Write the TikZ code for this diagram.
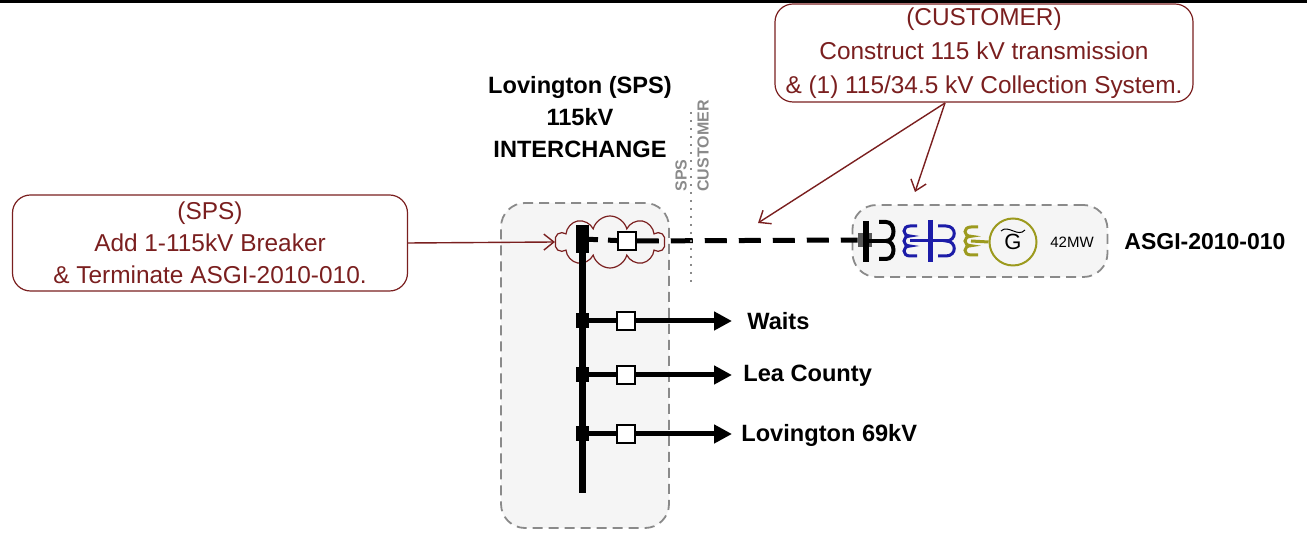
\documentclass[tikz,border=0pt]{standalone}
\usepackage{fontspec}
\setmainfont{Liberation Sans}
\usetikzlibrary{arrows.meta,shapes.symbols,positioning}
\definecolor{darkred}{HTML}{7A1F1F}
\definecolor{boxgray}{HTML}{8A8A8A}
\definecolor{fillgray}{HTML}{F5F5F5}
\definecolor{xfblue}{HTML}{1C1CA8}
\definecolor{genolive}{HTML}{9C9A1E}
\begin{document}
\begin{tikzpicture}[x=0.5pt,y=-0.5pt]
\tikzstyle{every node}+=[inner sep=0pt]
\tikzstyle{note}=[draw=darkred,line width=0.6pt,rounded corners=9pt,text=darkred,align=center]
\tikzstyle{dashbox}=[draw=boxgray,fill=fillgray,dash pattern=on 5pt off 3pt,line width=0.9pt,rounded corners=12pt]
\tikzstyle{brk}=[draw,fill=white,line width=0.75pt,minimum size=9pt]
\tikzstyle{jn}=[fill=black,minimum width=6.5pt,minimum height=7.5pt]
\tikzstyle{feeder}=[line width=2.5pt,-{Triangle[length=9pt,width=9pt]}]
\tikzstyle{tie}=[line width=2.5pt,dash pattern=on 11pt off 6pt]
\tikzstyle{callout}=[draw=darkred,line width=0.7pt,-{Straight Barb[length=5pt,width=8pt]}]
\tikzstyle{feedname}=[anchor=west,font=\bfseries\fontsize{11.8}{14}\selectfont]
\useasboundingbox (0,0) rectangle (1307,533);
\draw [line width=1.5pt] (0,2) -- (1307,2);
\node [note,minimum width=209pt,minimum height=49pt,font=\fontsize{12.2}{17}\selectfont] (cust) at (984,53)
  {(CUSTOMER)\\Construct 115 kV transmission\\\& (1) 115/34.5 kV Collection System.};
\node [note,minimum width=197.5pt,minimum height=48pt,font=\fontsize{12.2}{16}\selectfont] (sps) at (210,243)
  {(SPS)\\Add 1-115kV Breaker\\\& Terminate ASGI-2010-010.};
\node [align=center,font=\bfseries\fontsize{11.8}{16}\selectfont] (title) at (580,117)
  {Lovington (SPS)\\115kV\\INTERCHANGE};
\node [dashbox,minimum width=84pt,minimum height=162.5pt] (stn) at (585,365.5) {};
\node [dashbox,minimum width=127.5pt,minimum height=36pt] (gbox) at (980,241) {};
\node [cloud,draw=darkred,cloud puffs=10,cloud ignores aspect,minimum width=55pt,minimum height=26pt,line width=0.6pt] (cloud) at (610,242) {};
\coordinate (bustop) at (582,225);
\coordinate (busbot) at (582,493);
\draw [line width=3.5pt] (bustop) -- (busbot);
\node [jn,minimum height=14pt] (j0) at (582,239) {};
\node [jn] (j1) at (582,321) {};
\node [jn] (j2) at (582,375) {};
\node [jn] (j3) at (582,434) {};
\node [brk] (b0) at (627,241) {};
\node [brk] (b1) at (626,321) {};
\node [brk] (b2) at (626,375) {};
\node [brk] (b3) at (626,434) {};
\coordinate (t1) at (732,321);
\coordinate (t2) at (732,375);
\coordinate (t3) at (732,434);
\draw [feeder] (j1.center) -- (b1) -- (t1);
\draw [feeder] (j2.center) -- (b2) -- (t2);
\draw [feeder] (j3.center) -- (b3) -- (t3);
\node [feedname] (waits) at (747,321) {Waits};
\node [feedname] (lea) at (743,376) {Lea County};
\node [feedname] (lov) at (741,435) {Lovington 69kV};
\node [fill=black!65,minimum size=7pt] (gbrk) at (865,240) {};
\draw [line width=2.5pt,dash pattern=on 8pt off 5pt] (j0.center) -- (b0);
\draw [tie] (b0) -- (gbrk);
\draw [line width=3pt] (866,221) -- (866,262);
\draw [line width=2pt] (866,241) -- (886,241);
\draw [line width=2pt] (879,222) -- (886,222) .. controls (896,222) and (896,241) .. (886,241)
  .. controls (896,241) and (896,259) .. (886,259) -- (879,259);
\draw [xfblue,line width=1.5pt] (917,226) -- (910,226) .. controls (902,226) and (902,236) .. (910,236)
  .. controls (902,236) and (902,246) .. (910,246) .. controls (902,246) and (902,256) .. (910,256) -- (917,256);
\draw [xfblue,line width=1.5pt] (910,241) -- (947,241);
\draw [xfblue,line width=2.5pt] (930,220) -- (930,262);
\draw [xfblue,line width=1.5pt] (938,226) -- (946,226) .. controls (957,226) and (957,241) .. (946,241)
  .. controls (957,241) and (957,256) .. (946,256) -- (938,256);
\node [circle,draw=genolive,line width=1pt,minimum size=23.5pt,font=\fontsize{11}{12}\selectfont] (gen) at (1013,242) {G};
\draw [genolive,line width=1.5pt] (978,227) -- (971,227) .. controls (963,227) and (963,236.3) .. (971,236.3)
  .. controls (963,236.3) and (963,245.7) .. (971,245.7) .. controls (963,245.7) and (963,255) .. (971,255) -- (978,255);
\draw [genolive,line width=1.5pt] (971,241) -- (gen.west);
\draw [line width=0.5pt] (1001,231) .. controls (1008,224) and (1018,238) .. (1025,230);
\node [font=\fontsize{7.5}{9}\selectfont] (rating) at (1072,242) {42MW};
\node [anchor=west,font=\bfseries\fontsize{11.5}{14}\selectfont] (asgi) at (1124,242) {ASGI-2010-010};
\draw [boxgray,line width=1.2pt,dash pattern=on 1.2pt off 2.8pt] (691,112) -- (691,285);
\node [rotate=90,anchor=west,text=boxgray,font=\bfseries\fontsize{8}{9}\selectfont] (spsside) at (681,192) {SPS};
\node [rotate=90,anchor=west,text=boxgray,font=\bfseries\fontsize{8}{9}\selectfont] (custside) at (703,192) {CUSTOMER};
\coordinate (cfork) at (945,103);
\coordinate (tipgen) at (915,192);
\coordinate (tipline) at (758,223);
\draw [callout] (sps.east) -- (cloud.west);
\draw [callout] (cfork) -- (tipgen);
\draw [callout] (cfork) -- (tipline);
\end{tikzpicture}
\end{document}
